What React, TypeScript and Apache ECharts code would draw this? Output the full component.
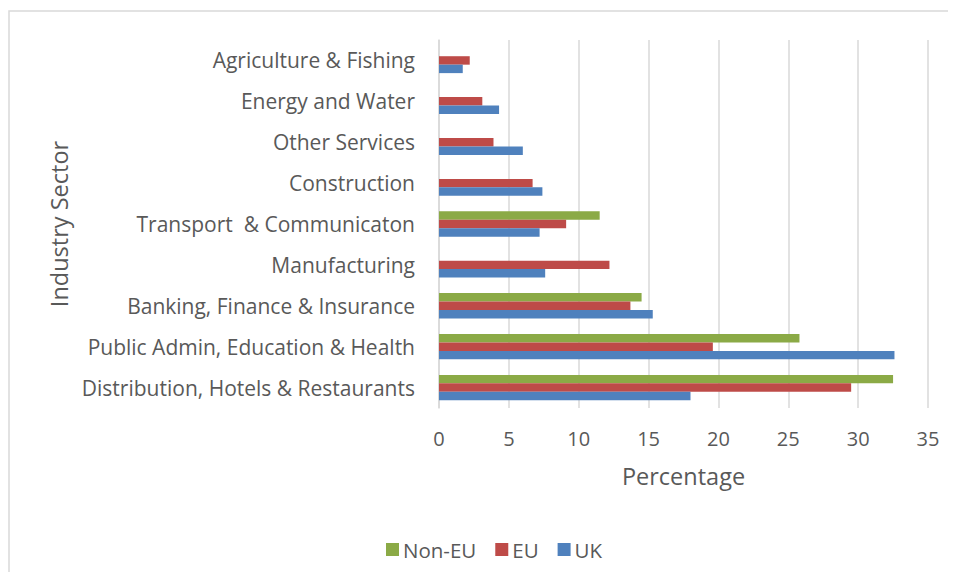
import React, { useEffect, useRef } from "react";
import * as echarts from "echarts";

const categories = [
  "Distribution, Hotels & Restaurants",
  "Public Admin, Education & Health",
  "Banking, Finance & Insurance",
  "Manufacturing",
  "Transport  & Communicaton",
  "Construction",
  "Other Services",
  "Energy and Water",
  "Agriculture & Fishing",
];
const nonEU = [32.5, 25.8, 14.5, null, 11.5, null, null, null, null];
const eu = [29.5, 19.6, 13.7, 12.2, 9.1, 6.7, 3.9, 3.1, 2.2];
const uk = [18.0, 32.6, 15.3, 7.6, 7.2, 7.4, 6.0, 4.3, 1.7];
const xTicks = { min: 0, max: 35, interval: 5 };

const FONT = "Open Sans";
const TXT = "#595959";

export default function App() {
  const ref = useRef<HTMLDivElement>(null);
  useEffect(() => {
    if (!ref.current) return;
    const chart = echarts.init(ref.current, null, { renderer: "svg" });
    chart.setOption({
      animation: false,
      backgroundColor: "#ffffff",
      textStyle: { fontFamily: FONT, color: TXT },
      graphic: [
        {
          type: "rect",
          shape: { x: 1, y: 3, width: 1000, height: 1000 },
          style: { fill: "none", stroke: "#d9d9d9", lineWidth: 1.5 },
          silent: true,
        },
      ],
      grid: { left: 431, top: 32, width: 489, height: 368, containLabel: false },
      legend: {
        bottom: 7,
        left: 373,
        data: ["Non-EU", "EU", "UK"],
        itemWidth: 13,
        itemHeight: 13,
        itemGap: 19,
        icon: "rect",
        textStyle: { fontFamily: FONT, fontSize: 20.5, color: TXT, padding: [0, 0, 0, -1] },
      },
      xAxis: {
        type: "value",
        min: xTicks.min,
        max: xTicks.max,
        interval: xTicks.interval,
        name: "Percentage",
        nameLocation: "middle",
        nameGap: 56,
        nameTextStyle: { fontFamily: FONT, fontSize: 23.5, color: TXT },
        axisLine: { show: false },
        axisTick: { show: false },
        axisLabel: { fontFamily: FONT, fontSize: 20, color: TXT, margin: 20 },
        splitLine: { show: true, lineStyle: { color: "#d9d9d9", width: 1.5 } },
      },
      yAxis: {
        type: "category",
        data: categories,
        name: "Industry Sector",
        nameLocation: "middle",
        nameGap: 362,
        nameRotate: 90,
        nameTextStyle: { fontFamily: FONT, fontSize: 23.5, color: TXT },
        axisLine: { show: true, lineStyle: { color: "#d9d9d9", width: 1.5 } },
        axisTick: { show: false },
        axisLabel: { fontFamily: FONT, fontSize: 21, color: TXT, margin: 24 },
        splitLine: { show: false },
      },
      series: [
        { name: "Non-EU", type: "bar", data: nonEU, itemStyle: { color: "#8BAA46" }, barGap: "0%", barCategoryGap: "38%" },
        { name: "EU", type: "bar", data: eu, itemStyle: { color: "#BE4B48" }, barGap: "0%", barCategoryGap: "38%" },
        { name: "UK", type: "bar", data: uk, itemStyle: { color: "#4F81BD" }, barGap: "0%", barCategoryGap: "38%" },
      ],
    });
    return () => chart.dispose();
  }, []);
  return <div ref={ref} style={{ width: 940, height: 564 }} />;
}
